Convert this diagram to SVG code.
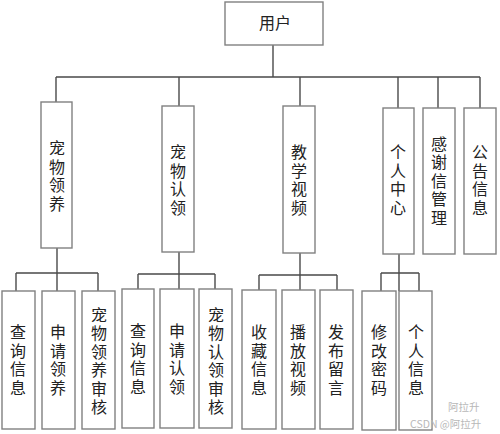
<svg xmlns="http://www.w3.org/2000/svg" width="500" height="434" viewBox="0 0 500 434">
<style>
.box{fill:#fff;stroke:#808080;stroke-width:1.4}
.t{font-family:"Noto Sans CJK SC","Liberation Sans",sans-serif;font-size:16px;fill:#222;text-anchor:middle;dominant-baseline:central}
.v{font-family:"Noto Sans CJK SC","Liberation Sans",sans-serif;font-size:16px;fill:#222;text-anchor:middle;writing-mode:vertical-rl;letter-spacing:2.5px}
.c{fill:none;stroke:#4a4a4a;stroke-width:1.4}
.wm{font-family:"Noto Sans CJK SC","Liberation Sans",sans-serif;fill:#b8b8b8;font-size:10.5px}
</style>
<rect width="500" height="434" fill="#fff"/>
<g id="connectors">
<path class="c" d="M273 45V77M56 77H480M56 77V102M179 77V106M300 77V106M398 77V108M438 77V108M480 77V108"/>
<path class="c" d="M57 248V291M16 273H98M16 273V291M98 273V291"/>
<path class="c" d="M179 252V289M138 274H215M138 274V289M215 274V289"/>
<path class="c" d="M300 253V290M259 275H337M259 275V290M337 275V290"/>
<path class="c" d="M399 254V291M381 273H419M381 273V291M419 273V291"/>
</g>
<g id="root"><rect class="box" x="225" y="2" width="98" height="43"/><text class="t" x="275" y="22">用户</text></g>
<g id="n1"><rect class="box" x="41" y="102" width="31" height="146"/><text class="v" x="57" y="177">宠物领养</text></g>
<g id="n2"><rect class="box" x="162" y="106" width="32" height="146"/><text class="v" x="178" y="181">宠物认领</text></g>
<g id="n3"><rect class="box" x="283" y="106" width="32" height="147"/><text class="v" x="299" y="181">教学视频</text></g>
<g id="n4"><rect class="box" x="383" y="108" width="31" height="146"/><text class="v" x="398" y="181">个人中心</text></g>
<g id="n5"><rect class="box" x="423" y="108" width="32" height="146"/><text class="v" x="439" y="182">感谢信管理</text></g>
<g id="n6"><rect class="box" x="464" y="108" width="32" height="146"/><text class="v" x="480" y="181">公告信息</text></g>
<g id="a1"><rect class="box" x="2" y="291" width="33" height="138"/><text class="v" x="18" y="361">查询信息</text></g>
<g id="a2"><rect class="box" x="42" y="291" width="33" height="138"/><text class="v" x="58" y="361">申请领养</text></g>
<g id="a3"><rect class="box" x="82" y="291" width="33" height="138"/><text class="v" x="99" y="362">宠物领养审核</text></g>
<g id="b1"><rect class="box" x="122" y="289" width="32" height="139"/><text class="v" x="138" y="360">查询信息</text></g>
<g id="b2"><rect class="box" x="160" y="289" width="34" height="139"/><text class="v" x="177" y="360">申请认领</text></g>
<g id="b3"><rect class="box" x="199" y="289" width="33" height="139"/><text class="v" x="216" y="362">宠物认领审核</text></g>
<g id="c1"><rect class="box" x="242" y="290" width="34" height="139"/><text class="v" x="259" y="361">收藏信息</text></g>
<g id="c2"><rect class="box" x="282" y="290" width="33" height="139"/><text class="v" x="298" y="361">播放视频</text></g>
<g id="c3"><rect class="box" x="320" y="290" width="33" height="139"/><text class="v" x="336" y="361">发布留言</text></g>
<g id="d1"><rect class="box" x="362" y="291" width="34" height="139"/><text class="v" x="379" y="361">修改密码</text></g>
<g id="d2"><rect class="box" x="399" y="291" width="33" height="139"/><text class="v" x="416" y="361">个人信息</text></g>
<g id="watermark">
<text class="wm" x="448" y="411">阿拉升</text>
<text class="wm" x="410" y="428">CSDN @阿拉升</text>
</g>
</svg>
